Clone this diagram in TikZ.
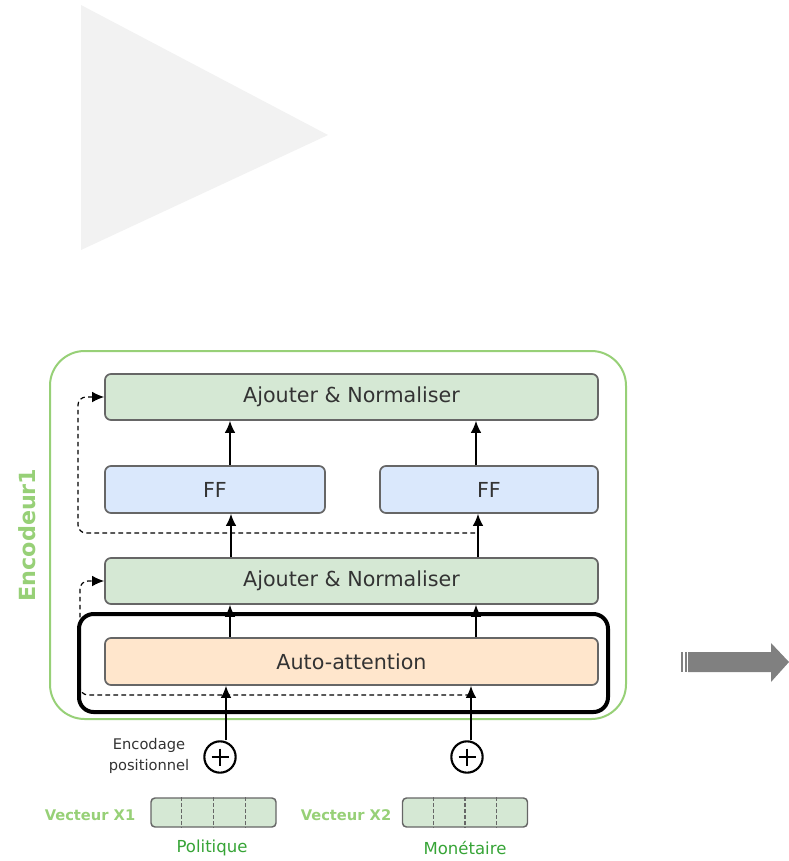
\documentclass[tikz,border=0pt]{standalone}
\usepackage{fontspec}
\setmainfont{DejaVu Sans}
\usetikzlibrary{arrows.meta,calc}
\definecolor{gfill}{HTML}{D5E8D4}
\definecolor{bfill}{HTML}{DAE8FC}
\definecolor{ofill}{HTML}{FFE6CC}
\definecolor{strokegray}{HTML}{666666}
\definecolor{txt}{HTML}{333333}
\definecolor{frameg}{HTML}{97D077}
\definecolor{labg}{HTML}{97D077}
\definecolor{wordg}{HTML}{36A436}
\definecolor{arrowgray}{HTML}{808080}
\definecolor{trig}{HTML}{F2F2F2}
\tikzset{
  tipx/.tip={Latex[length=9pt,width=8pt]}
}
\begin{document}
\begin{tikzpicture}[x=0.75pt,y=-0.75pt,
  blk/.style={draw=strokegray, line width=1.3pt, rounded corners=4.5pt, text=txt,
    font=\fontsize{15.5}{17}\selectfont, inner sep=0pt},
  arr/.style={-tipx, line width=1.1pt},
  dsh/.style={dash pattern=on 3.5pt off 2.5pt, line width=0.9pt, rounded corners=6pt, -tipx},
  vecbox/.style={draw=strokegray, fill=gfill, line width=1.1pt, rounded corners=3pt,
    minimum width=93.75pt, minimum height=21.75pt, inner sep=0pt},
  vlab/.style={text=labg, font=\bfseries\fontsize{11}{13}\selectfont},
  wlab/.style={text=wordg, font=\fontsize{12.4}{14}\selectfont},
  plusc/.style={circle, draw, line width=1.6pt, minimum size=23.5pt, inner sep=0pt}]
\useasboundingbox (0,0) rectangle (789,861);

% background triangle
\fill[trig] (81,5) -- (328,135) -- (81,250) -- cycle;

% outer encoder frame
\node[draw=frameg, line width=1.5pt, rounded corners=26pt, minimum width=432pt,
  minimum height=276pt, inner sep=0pt] (enc) at (338,535) {};
\node[rotate=90, text=labg, font=\bfseries\fontsize{16.7}{17}\selectfont] (encl) at (27,535) {Encodeur1};

% blocks
\node[blk, fill=gfill, minimum width=369.75pt, minimum height=34.5pt] (an2) at (351.5,397) {Ajouter \& Normaliser};
\node[blk, fill=bfill, minimum width=165pt, minimum height=35.25pt] (ffL) at (215,489.5) {FF};
\node[blk, fill=bfill, minimum width=163.5pt, minimum height=35.25pt] (ffR) at (489,489.5) {FF};
\node[blk, fill=gfill, minimum width=369.75pt, minimum height=34.5pt] (an1) at (351.5,581) {Ajouter \& Normaliser};
\node[blk, fill=ofill, minimum width=369.75pt, minimum height=35.25pt] (att) at (351.5,661.5) {Auto-attention};

% column coordinates
\coordinate (xa) at (230,0);
\coordinate (xb) at (476,0);
\coordinate (xa2) at (231,0);
\coordinate (xb2) at (478,0);
\coordinate (xi1) at (226,0);
\coordinate (xi2) at (471,0);
\coordinate (lx) at (78,0);
\coordinate (lx2) at (80,0);
\coordinate (d1s) at (475,533);
\coordinate (d2s) at (470,695);

% residual dashed connections
\draw[dsh] (d1s) -| (lx |- an2.west) -- (an2.west);
\draw[dsh] (d2s) -| (lx2 |- an1.west) -- (an1.west);

% focus frame
\node[draw=black, line width=3pt, rounded corners=11pt, minimum width=396.75pt,
  minimum height=73.5pt, inner sep=0pt] (focus) at (343.5,663) {};

% arrows
\draw[arr] (att.north -| xa) -- (an1.south -| xa);
\draw[arr] (att.north -| xb) -- (an1.south -| xb);
\draw[arr] (an1.north -| xa2) -- (ffL.south -| xa2);
\draw[arr] (an1.north -| xb2) -- (ffR.south -| xb2);
\draw[arr] (ffL.north -| xa) -- (an2.south -| xa);
\draw[arr] (ffR.north -| xb) -- (an2.south -| xb);

% positional encoding
\node[plusc] (p1) at (220,757) {};
\node[plusc] (p2) at (467,757) {};
\foreach \p in {p1,p2}{
  \draw[line width=1.6pt] ($(\p)+(-8.5,0)$) -- ($(\p)+(8.5,0)$);
  \draw[line width=1.6pt] ($(\p)+(0,-8.5)$) -- ($(\p)+(0,8.5)$);
}
\draw[arr] (p1.north -| xi1) -- (att.south -| xi1);
\draw[arr] (p2.north -| xi2) -- (att.south -| xi2);
\node[align=center, text=txt, font=\fontsize{11}{16}\selectfont] (enct) at (149,756) {Encodage\\positionnel};

% input vectors
\node[vecbox] (v1) at (213.5,812.5) {};
\node[vecbox] (v2) at (465,812.5) {};
\foreach \v in {v1,v2}{
  \foreach \f in {0.25,0.5,0.75}{
    \draw[strokegray, line width=0.9pt, dash pattern=on 2.5pt off 2pt]
      ($(\v.north west)!\f!(\v.north east)$) -- ($(\v.south west)!\f!(\v.south east)$);
  }
}
\node[vlab] (vl1) at (90,815) {Vecteur X1};
\node[vlab] (vl2) at (346,815) {Vecteur X2};
\node[wlab] (w1) at (212,848) {Politique};
\node[wlab] (w2) at (465,848) {Monétaire};

% big gray arrow
\fill[arrowgray] (688,652) -- (771,652) -- (771,643) -- (789,662) -- (771,682) -- (771,672) -- (688,672) -- cycle;
\fill[arrowgray] (681,652) rectangle (683,672);
\fill[arrowgray] (685,652) rectangle (686.5,672);
\end{tikzpicture}
\end{document}
